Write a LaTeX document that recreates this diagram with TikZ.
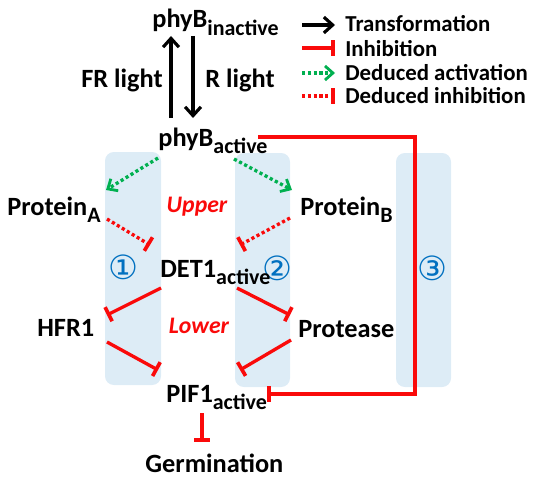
\documentclass[tikz,border=0pt]{standalone}
\usepackage{fontspec}
\setmainfont{Carlito}
\newfontfamily\symfont{DejaVu Sans}
\usetikzlibrary{arrows.meta,calc}
\definecolor{inhred}{RGB}{250,10,10}
\definecolor{actgreen}{RGB}{0,176,80}
\definecolor{laneblue}{RGB}{221,236,246}
\definecolor{numblue}{RGB}{0,112,192}
\newcommand{\subtext}[1]{\raisebox{-4pt}{\fontsize{12.5}{12.5}\selectfont #1}}

\tikzset{
	lbl/.style={inner sep=0pt, anchor=base west, font=\fontsize{15}{17}\selectfont\bfseries},
	key/.style={inner sep=0pt, anchor=base west, font=\fontsize{13}{15}\selectfont\bfseries},
	region/.style={inhred, inner sep=0pt, font=\fontsize{13.5}{16}\selectfont\bfseries\itshape},
	num/.style={numblue, inner sep=0pt, font=\symfont\fontsize{19}{19}\selectfont},
	lane/.style={fill=laneblue, rounded corners=5pt},
	trans/.style={black, line width=2pt, -{Straight Barb[length=5pt,width=9pt,line width=1.8pt]}},
	inhib/.style={inhred, line width=1.9pt, -{Bar[width=9pt,line width=2.1pt]}},
	dedact/.style={actgreen, line width=1.9pt, dash pattern=on 1.8pt off 1.5pt, -{Straight Barb[length=4.5pt,width=8pt,line width=1.6pt]}},
	dedinh/.style={inhred, line width=1.9pt, dash pattern=on 1.8pt off 1.5pt, -{Bar[width=9pt,line width=2.1pt]}},
}

\begin{document}
\begin{tikzpicture}[x=0.02cm, y=-0.02cm]
	\useasboundingbox (0,0) rectangle (533,483);
	%%%%% LANES %%%%%
	\fill[lane] (105,152) rectangle (161,385);
	\fill[lane] (235,153) rectangle (290,387);
	\fill[lane] (396,153) rectangle (451,387);
	
	\node[num] (n1) at (123,267) {①};
	\node[num] (n2) at (277,268) {②};
	\node[num] (n3) at (432,268) {③};
	
	%%%%% NODES %%%%%
	\node[lbl] (phyBi) at (152,28) {phyB\subtext{inactive}};
	\node[lbl] (phyBa) at (158,146) {phyB\subtext{active}};
	\node[lbl, anchor=base east] (frl) at (163,88) {FR light};
	\node[lbl] (rl) at (205,88) {R light};
	
	\node[lbl] (protA) at (7,215) {Protein\subtext{A}};
	\node[lbl] (protB) at (300,215) {Protein\subtext{B}};
	\node[region] (upper) at (197,207) {Upper};
	
	\node[lbl] (det1) at (160,277) {DET1\subtext{active}};
	
	\node[lbl] (hfr1) at (37,336) {HFR1};
	\node[lbl] (prot) at (298,337) {Protease};
	\node[region] (lower) at (199,326) {Lower};
	
	\node[lbl] (pif1) at (166,402) {PIF1\subtext{active}};
	\node[lbl] (germ) at (145,472) {Germination};
	
	%%%%% LEGEND %%%%%
	\node[key] (lgT) at (345,32) {Transformation};
	\node[key] (lgI) at (345,57) {Inhibition};
	\node[key] (lgA) at (345,80) {Deduced activation};
	\node[key] (lgD) at (345,103) {Deduced inhibition};
	\draw[trans] ($(lgT.base west)+(-43,-7)$) -- ++(33,0);
	\draw[inhib] ($(lgI.base west)+(-43,-9)$) -- ++(33,0);
	\draw[dedact] ($(lgA.base west)+(-43,-7)$) -- ++(33,0);
	\draw[dedinh] ($(lgD.base west)+(-43,-7)$) -- ++(33,0);
	
	%%%%% LIGHT %%%%%
	\draw[trans] ($(phyBa.base west)+(13,-28)$) -- ($(phyBi.base west)+(19,8)$);
	\draw[trans] ($(phyBi.base west)+(41,8)$) -- ($(phyBa.base west)+(35,-28)$);
	
	%%%%% UPPER %%%%%
	\draw[dedact] ($(phyBa.base west)+(0,12)$) -- ($(protA.base west)+(99,-25)$);
	\draw[dedact] ($(phyBa.base west)+(76,13)$) -- ($(protB.base west)+(-8,-25)$);
	\draw[dedinh] ($(protA.base west)+(100,4)$) -- ($(det1.base west)+(-10,-32)$);
	\draw[dedinh] ($(protB.base west)+(-10,3)$) -- ($(det1.base west)+(80,-32)$);
	
	%%%%% LOWER %%%%%
	\draw[inhib] ($(det1.base west)+(1,11)$) -- ($(hfr1.base west)+(70,-21)$);
	\draw[inhib] ($(det1.base west)+(77,11)$) -- ($(prot.base west)+(-8,-22)$);
	\draw[inhib] ($(hfr1.base west)+(70,6)$) -- ($(pif1.base west)+(-8,-32)$);
	\draw[inhib] ($(prot.base west)+(-7,3)$) -- ($(pif1.base west)+(74,-32)$);
	
	%%%%% DIRECT %%%%%
	\draw[inhib] ($(phyBa.base west)+(100,-9)$) -- ++(157,0) |- ($(pif1.base west)+(101,-8)$);
	\draw[inhib] ($(pif1.base west)+(36,11)$) -- ($(germ.base west)+(57,-30)$);
\end{tikzpicture}
\end{document}
